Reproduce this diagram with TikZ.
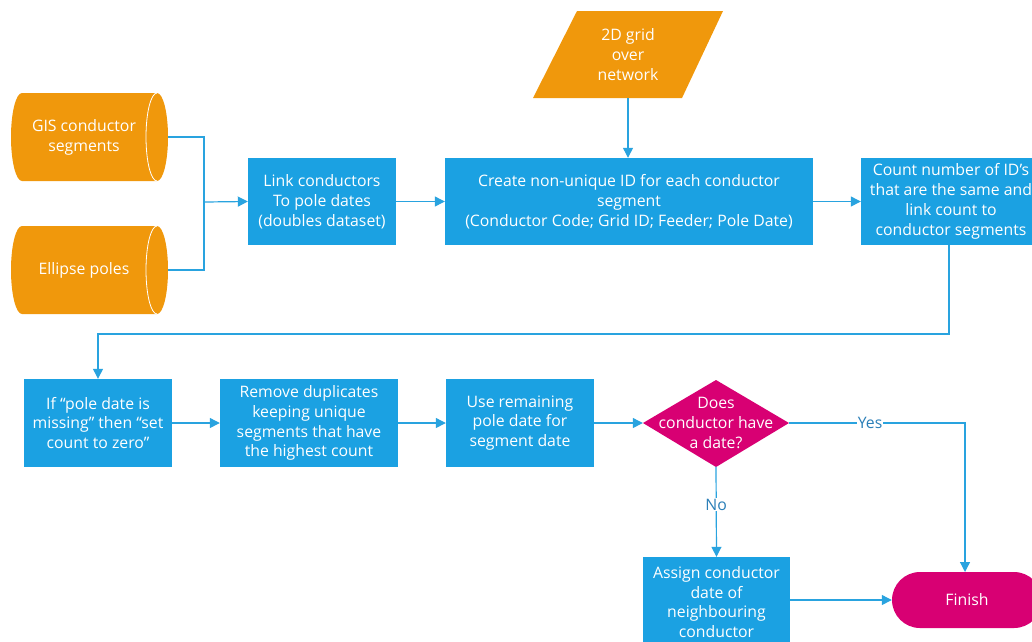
\documentclass[tikz,border=0pt]{standalone}
\usepackage{fontspec}
\setmainfont{Open Sans}
\usetikzlibrary{arrows.meta}
\definecolor{procblue}{HTML}{1BA1E2}
\definecolor{lineblue}{HTML}{29A3DF}
\definecolor{dataorange}{HTML}{F0980C}
\definecolor{decmagenta}{HTML}{D80073}
\definecolor{labelblue}{HTML}{2B7FB8}
\tikzset{
  x=1pt, y=-1pt,
  every node/.style={font=\fontsize{15.8}{19.8}\selectfont, align=center},
  proc/.style={rectangle, fill=procblue, text=white, inner sep=0pt, minimum height=87pt},
  textonly/.style={text=white, inner sep=0pt},
  terminal/.style={rectangle, rounded corners=28pt, fill=decmagenta, text=white,
    inner sep=0pt, minimum width=150pt, minimum height=56pt},
  flow/.style={draw=lineblue, line width=1.2pt, -{Triangle[length=10pt,width=10pt]}},
  plain/.style={draw=lineblue, line width=1.2pt},
  edgelabel/.style={fill=white, text=labelblue, inner sep=1pt},
  datastore/.pic={
    \fill[dataorange] (-67,-44) -- (68,-44)
      .. controls (74.1,-44) and (79,-24.3) .. (79,0)
      .. controls (79,24.3) and (74.1,44) .. (68,44) -- (-67,44)
      .. controls (-73.1,44) and (-78,24.3) .. (-78,0)
      .. controls (-78,-24.3) and (-73.1,-44) .. (-67,-44) -- cycle;
    \draw[white, line width=0.8pt] (68,-44)
      .. controls (61.9,-44) and (57,-24.3) .. (57,0)
      .. controls (57,24.3) and (61.9,44) .. (68,44);
  }
}
\begin{document}
\begin{tikzpicture}
\useasboundingbox (0,0) rectangle (1032,641);
\clip (0,0) rectangle (1032,641);

% data sources
\pic at (89,137) {datastore};
\pic at (89,270) {datastore};
\node[textonly] (gis) at (84,137) {GIS conductor\\segments};
\node[textonly] (poles) at (84,270) {Ellipse poles};
\coordinate (gisout) at (168,137);
\coordinate (polesout) at (168,270);
\coordinate (join) at (204,202);

% grid input
\fill[dataorange] (577,11) -- (723,11) -- (682,98) -- (533,98) -- cycle;
\node[textonly, minimum height=87pt] (grid) at (628,54.5) {2D grid\\over\\network};

% top row
\node[proc, minimum width=148pt] (link) at (322,201.5)
  {Link conductors\\To pole dates\\(doubles dataset)};
\node[proc, minimum width=368pt] (create) at (629,201.5)
  {Create non-unique ID for each conductor\\segment\\(Conductor Code; Grid ID; Feeder; Pole Date)};
\node[proc, minimum width=180pt] (count) at (951,201.5)
  {Count number of ID's\\that are the same and\\link count to\\conductor segments};

% bottom row
\node[proc, minimum width=148pt, minimum height=88pt] (ifpole) at (98,423)
  {If “pole date is\\missing” then “set\\count to zero”};
\node[proc, minimum width=178pt, minimum height=88pt] (remove) at (309,423)
  {Remove duplicates\\keeping unique\\segments that have\\the highest count};
\node[proc, minimum width=148pt, minimum height=88pt] (use) at (520,423)
  {Use remaining\\pole date for\\segment date};
\fill[decmagenta] (716,380) -- (789,423) -- (716,467) -- (643,423) -- cycle;
\node[textonly, minimum width=146pt, minimum height=87pt] (dia) at (716,423)
  {Does\\conductor have\\a date?};
\node[proc, minimum width=147pt, minimum height=90pt] (assign) at (716.5,602)
  {Assign conductor\\date of\\neighbouring\\conductor};
\node[terminal] (finish) at (967,600) {Finish};

% connectors
\draw[plain] (gisout) -- (join |- gisout) -- (join |- polesout) -- (polesout);
\draw[flow] (join) -- (link.west);
\draw[flow] (link.east) -- (create.west);
\draw[flow] (grid.south) -- (grid.south |- create.north);
\draw[flow] (create.east) -- (count.west |- create.east);
\draw[flow] (count.south -| 949,0) -- (949,334) -| (ifpole.north);
\draw[flow] (ifpole.east) -- (remove.west);
\draw[flow] (remove.east) -- (use.west);
\draw[flow] (use.east) -- (dia.west);
\draw[flow] (dia.east) -| node[edgelabel, pos=0.23] {Yes} (965,572);
\draw[flow] (dia.south) -- node[edgelabel, pos=0.42] {No} (assign.north);
\draw[flow] (assign.east |- finish.west) -- (finish.west);
\end{tikzpicture}
\end{document}
